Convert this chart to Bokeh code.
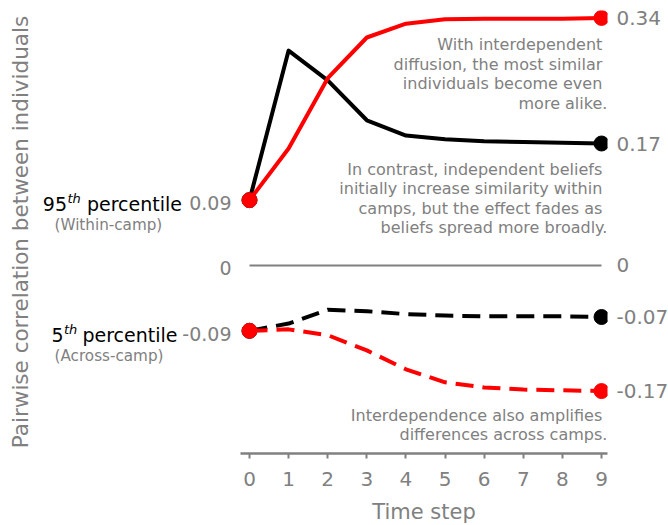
from bokeh.plotting import figure
from bokeh.layouts import row
from bokeh.models import LinearAxis, FixedTicker, NumeralTickFormatter, Label, Range1d
from bokeh.embed import file_html
from bokeh.resources import INLINE

# ---- data ----
time = [0, 1, 2, 3, 4, 5, 6, 7, 8, 9]
indep_95 = [0.09, 0.296, 0.255, 0.200, 0.179, 0.174, 0.171, 0.170, 0.169, 0.168]
interdep_95 = [0.09, 0.161, 0.258, 0.314, 0.333, 0.339, 0.340, 0.340, 0.340, 0.341]
indep_5 = [-0.09, -0.080, -0.061, -0.063, -0.067, -0.069, -0.070, -0.070, -0.070, -0.071]
interdep_5 = [-0.09, -0.088, -0.096, -0.117, -0.143, -0.161, -0.168, -0.171, -0.172, -0.173]

left_ticks = [indep_95[0], 0, indep_5[0]]
right_ticks = [interdep_95[-1], indep_95[-1], 0, indep_5[-1], interdep_5[-1]]

note_interdep = "With interdependent\u00a0\ndiffusion, the most similar\u00a0\nindividuals become even\u00a0\nmore alike."
note_indep = "In contrast, independent beliefs\u00a0\ninitially increase similarity within\u00a0\ncamps, but the effect fades as\u00a0\nbeliefs spread more broadly."
note_across = "Interdependence also amplifies\u00a0\ndifferences across camps."

FONT = "DejaVu Sans"
GRAY = "#808080"

yr = Range1d(-0.259, 0.3512)

# ---------- left panel: y title, percentile names, start values ----------
lp = figure(frame_width=202, frame_height=443,
            x_range=Range1d(-5.395, -0.230), y_range=yr,
            x_axis_location=None,
            output_backend="svg", toolbar_location=None,
            min_border_left=38, min_border_right=0, min_border_top=10, min_border_bottom=0)
lp.xgrid.visible = False
lp.ygrid.visible = False
lp.outline_line_color = None
ya = lp.yaxis[0]
ya.ticker = FixedTicker(ticks=[])
ya.axis_line_color = None
ya.major_tick_line_color = None
ya.minor_tick_line_color = None
ya.major_tick_out = 0
ya.major_tick_in = 0
ya.major_label_standoff = 0
ya.axis_label = "Pairwise correlation between individuals"
ya.axis_label_text_font = FONT
ya.axis_label_text_font_size = "21.5px"
ya.axis_label_text_font_style = "normal"
ya.axis_label_text_color = GRAY
ya.axis_label_standoff = 6

for v in left_ticks:
    txt = "0" if v == 0 else f"{v:.2f}"
    lp.add_layout(Label(x=time[0], y=v, x_offset=-18, y_offset=-3, text=txt, text_align="right",
                        text_baseline="middle", text_font=FONT, text_font_size="19px",
                        text_color=GRAY))

def pct_label(num, yv, x_num, x_th, x_pct, sub):
    lp.add_layout(Label(x=x_num, y=yv, y_offset=-4, text=num, text_align="right",
                        text_baseline="middle", text_font=FONT, text_font_size="19px",
                        text_color="black"))
    lp.add_layout(Label(x=x_th, y=yv, y_offset=1.5, text="th", text_align="left",
                        text_baseline="middle", text_font=FONT, text_font_size="13px",
                        text_font_style="italic", text_color="black"))
    lp.add_layout(Label(x=x_pct, y=yv, y_offset=-4, text="percentile", text_align="right",
                        text_baseline="middle", text_font=FONT, text_font_size="19px",
                        text_color="black"))
    lp.add_layout(Label(x=-4.985, y=yv, y_offset=-25, text=sub, text_align="left",
                        text_baseline="middle", text_font=FONT, text_font_size="15.2px",
                        text_color=GRAY))

pct_label("95", indep_95[0], -4.667, -4.654, -1.726, "(Within-camp)")
pct_label("5", indep_5[0], -4.756, -4.743, -1.841, "(Across-camp)")

# ---------- main panel ----------
p = figure(frame_width=367, frame_height=443,
           x_range=Range1d(-0.230, 9.153), y_range=yr,
           y_axis_location=None,
           output_backend="svg", toolbar_location=None,
           min_border_left=0, min_border_right=0, min_border_top=10, min_border_bottom=0)
p.xgrid.visible = False
p.ygrid.visible = False
p.outline_line_color = None

xa = p.xaxis[0]
xa.ticker = FixedTicker(ticks=time)
xa.axis_line_color = GRAY
xa.axis_line_width = 2.5
xa.major_tick_line_color = GRAY
xa.major_tick_line_width = 2
xa.major_tick_out = 5
xa.major_tick_in = 0
xa.minor_tick_line_color = None
xa.major_label_text_font = FONT
xa.major_label_text_font_size = "20px"
xa.major_label_text_color = GRAY
xa.major_label_standoff = 13
xa.axis_label = "Time step"
xa.axis_label_text_font = FONT
xa.axis_label_text_font_size = "21px"
xa.axis_label_text_font_style = "normal"
xa.axis_label_text_color = GRAY
xa.axis_label_standoff = 11

ra = LinearAxis(ticker=FixedTicker(ticks=right_ticks),
                formatter=NumeralTickFormatter(format="0.[00]"),
                axis_line_color=None, major_tick_line_color=None, minor_tick_line_color=None,
                major_tick_out=0, major_tick_in=0, major_label_standoff=9,
                major_label_text_font=FONT, major_label_text_font_size="20px",
                major_label_text_color=GRAY)
p.add_layout(ra, "right")

# zero line
p.segment(x0=[time[0]], y0=[0], x1=[time[-1]], y1=[0], line_color=GRAY, line_width=2)

# series
p.line(time, indep_95, line_color="black", line_width=4, line_join="round")
p.scatter([time[0], time[-1]], [indep_95[0], indep_95[-1]], size=15, color="black")
p.line(time, indep_5, line_color="black", line_width=4, line_dash="18 9", line_join="round")
p.scatter([time[0], time[-1]], [indep_5[0], indep_5[-1]], size=15, color="black")
p.line(time, interdep_95, line_color="red", line_width=4, line_join="round")
p.scatter([time[0], time[-1]], [interdep_95[0], interdep_95[-1]], size=15, color="red")
p.line(time, interdep_5, line_color="red", line_width=4, line_dash="18 9", line_join="round")
p.scatter([time[0], time[-1]], [interdep_5[0], interdep_5[-1]], size=15, color="red")

for txt, yy in [(note_interdep, 0.2638), (note_indep, 0.0923), (note_across, -0.2197)]:
    p.add_layout(Label(x=9.15, y=yy, text=txt, text_align="right", text_baseline="middle",
                       text_line_height=1.02,
                       text_font=FONT, text_font_size="16px", text_color=GRAY))

layout = row(lp, p)
open("out.html", "w").write(file_html(layout, INLINE))
